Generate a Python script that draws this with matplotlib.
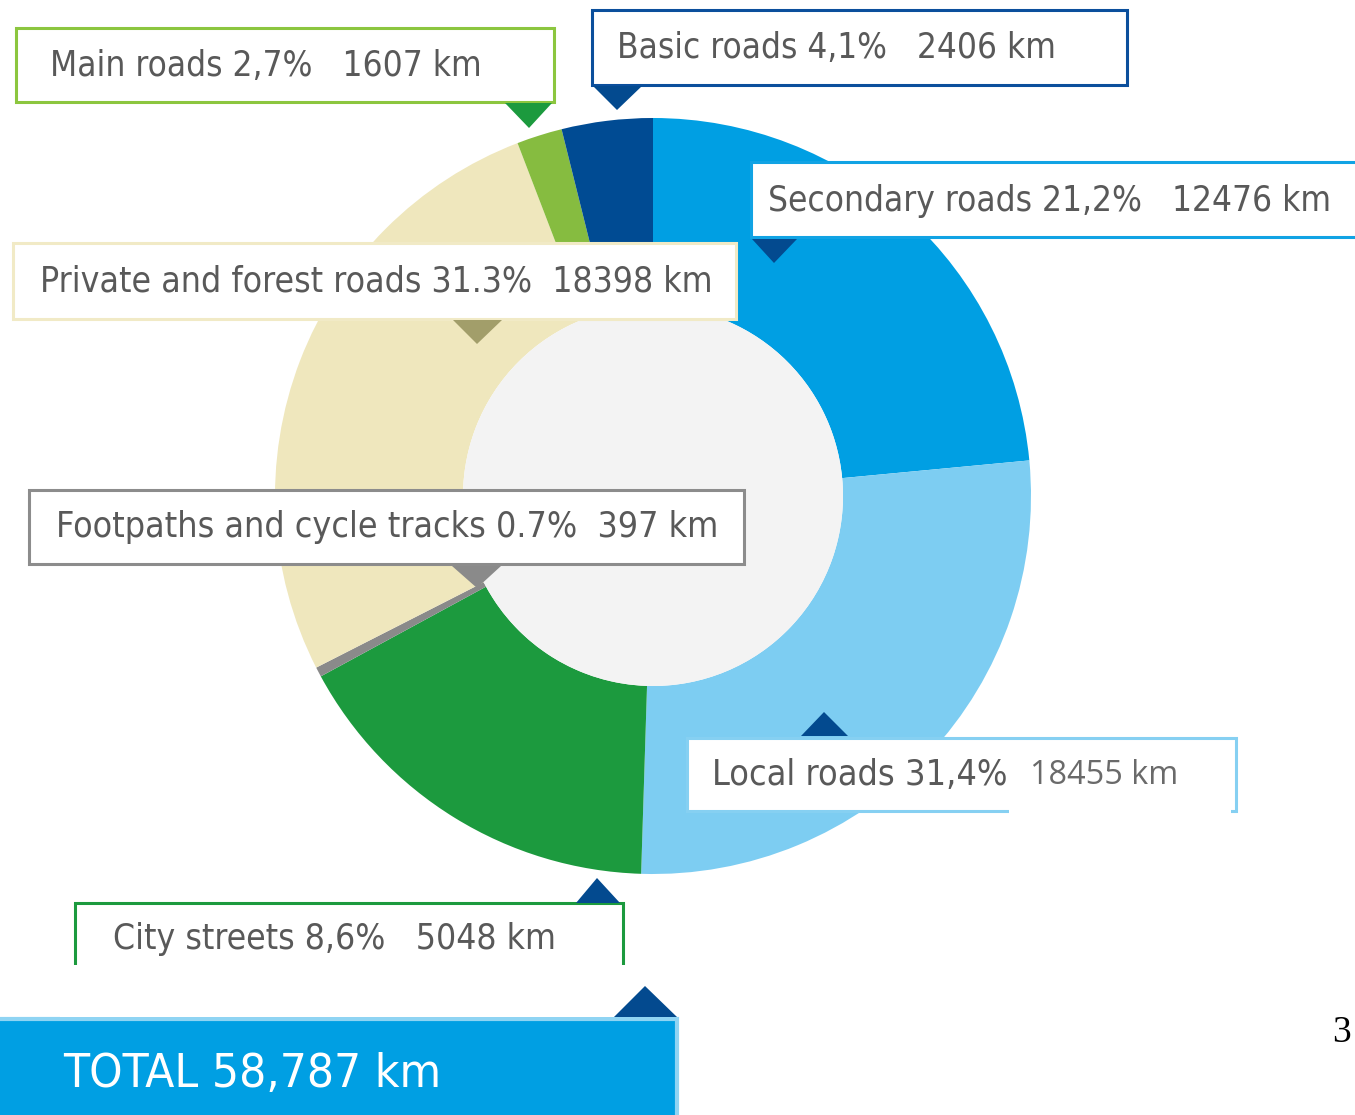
import matplotlib
matplotlib.use('Agg')
import matplotlib.pyplot as plt
from matplotlib.patches import Rectangle, Polygon, Circle

W, H = 1355, 1115

# wedge order, clockwise from 12 o'clock
categories = ['Secondary roads', 'Local roads', 'City streets', 'Footpaths and cycle tracks',
              'Private and forest roads', 'Main roads', 'Basic roads']
km = [12476, 18455, 5048, 397, 18398, 1607, 2406]
pct_text = ['21,2%', '31,4%', '8,6%', '0.7%', '31.3%', '2,7%', '4,1%']
# angular share of each wedge as drawn in the picture (degrees)
drawn_share = [84.6, 97.2, 59.7, 1.5, 96.0, 7.0, 14.0]
colors = ['#009fe3', '#7dcdf2', '#1c9a3e', '#8a8a8a', '#efe7bd', '#86bc40', '#004b93']
total_text = 'TOTAL 58,787 km'

TEXT = '#595959'
DARK = '#034a8f'
NARROW = ['DejaVu Sans']


def Y(py):
    return H - py


fig = plt.figure(figsize=(W / 100, H / 100), dpi=100)
ax = fig.add_axes([0, 0, 1, 1])
renderer = fig.canvas.get_renderer()

ax.pie(drawn_share, colors=colors, startangle=90, counterclock=False,
       center=(653, Y(496)), radius=378, frame=True,
       wedgeprops=dict(width=188, linewidth=0))
ax.add_patch(Circle((653, Y(496)), 190, facecolor='#f3f3f3', edgecolor='none'))

ax.set_xlim(0, W)
ax.set_ylim(0, H)
ax.set_aspect('auto')
ax.axis('off')


def box(x0, y0, x1, y1, edge, lw=2.2, face='white'):
    ax.add_patch(Rectangle((x0, Y(y1)), x1 - x0, y1 - y0, facecolor=face,
                           edgecolor=edge, linewidth=lw, zorder=5))


def pointer(xl, xr, ybase, xapex, yapex, color):
    ax.add_patch(Polygon([(xl, Y(ybase)), (xr, Y(ybase)), (xapex, Y(yapex))],
                         closed=True, facecolor=color, edgecolor='none', zorder=6))


def label(x, y, s, x_end, color=TEXT, family=NARROW, stretch='condensed', size=26):
    # fit the text so that it ends where it ends in the picture
    t = ax.text(x, Y(y), s, fontsize=size, color=color, family=family,
                fontstretch=stretch, ha='left', va='center', zorder=7)
    for _ in range(2):
        w = t.get_window_extent(renderer).width
        t.set_fontsize(t.get_fontsize() * (x_end - x) / w)
    return t


def lab(i, gap='   '):
    return f'{categories[i]} {pct_text[i]}{gap}{km[i]} km'


# Main roads
box(16, 28, 554, 102, '#8cc63f')
pointer(505, 552, 103, 529, 128, '#1c9a3e')
label(50, 66, lab(5), 482)

# Basic roads
box(592, 10, 1127, 85, '#0b4f9c')
pointer(593, 642, 86, 617, 110, DARK)
label(617, 48, lab(6), 1056)

# Secondary roads
box(751, 162, 1420, 237, '#11a3e4')
pointer(752, 797, 239, 774, 263, DARK)
label(768, 201, lab(0), 1333)

# Private and forest roads
box(13, 243, 736, 319, '#f1eac6')
pointer(453, 502, 320, 477, 344, '#a29e6a')
label(40, 281, lab(4, '  '), 713)

# Footpaths and cycle tracks
box(29, 490, 744, 564, '#8c8c8c')
pointer(452, 501, 566, 477, 588, '#8a8a8a')
label(56, 527, lab(3, '  '), 720)

# Local roads
box(687, 738, 1236, 811, '#86d0f2')
ax.add_patch(Rectangle((1009, Y(817)), 222, 72, facecolor='white',
                       edgecolor='none', zorder=5.5))
pointer(801, 848, 736, 824, 712, DARK)
label(712, 775, f'{categories[1]} {pct_text[1]}', 1008)
label(1030, 775, f'{km[1]} km', 1178, color='#6a6a6a',
      family=['Open Sans', 'DejaVu Sans'], stretch='normal')

# City streets
box(75, 903, 623, 1000, '#1c9a3e')
ax.add_patch(Rectangle((60, Y(1017)), 600, 52, facecolor='white',
                       edgecolor='none', zorder=5.5))
pointer(576, 620, 903, 597, 878, DARK)
label(113, 939, lab(2), 556)

# TOTAL
box(-10, 1019, 677, 1130, '#8fd4f3', lw=3, face='#009fe3')
pointer(614, 677, 1017, 645, 986, DARK)
label(63, 1074, total_text, 441, color='white')

# page number
ax.text(1342, Y(1033), '3', fontsize=27, color='black',
        family=['Liberation Serif', 'DejaVu Serif'], ha='center', va='center')

fig.savefig('out.png', dpi=100)
